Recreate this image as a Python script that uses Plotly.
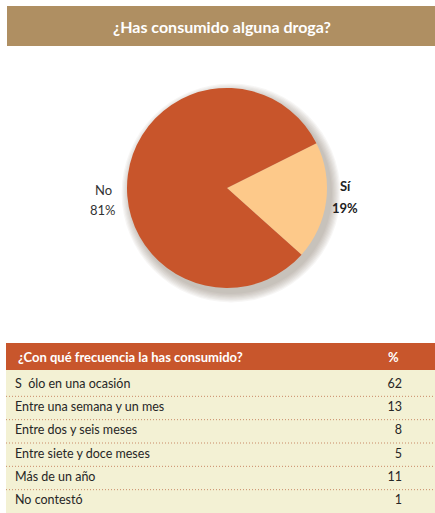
import plotly.graph_objects as go

# ---- data ----
pie_title = "¿Has consumido alguna droga?"
pie_labels = ["Sí", "No"]
pie_values = [19, 81]
pie_bold = [True, False]

table_header = ["¿Con qué frecuencia la has consumido?", "%"]
freq_categories = [
    "S  ólo en una ocasión",
    "Entre una semana y un mes",
    "Entre dos y seis meses",
    "Entre siete y doce meses",
    "Más de un año",
    "No contestó",
]
freq_values = [62, 13, 8, 5, 11, 1]

# ---- style ----
W, H = 435, 513
FONT = "Lato"
C_NO = "#C8552B"
C_SI = "#FDC98A"
C_TITLE = "#AF8F62"
C_HEAD = "#C8562C"
C_ROW = "#F3F1D4"
C_DOT = "#C98A66"
TXT = "#262626"

def py(px):
    return 1 - px / H

def pxx(px):
    return px / W

fig = go.Figure()

# ---- pie ----
pcx, pcy, pr = 227, 188, 100
fig.add_trace(go.Pie(
    labels=pie_labels, values=pie_values,
    textinfo="none",
    marker=dict(colors=[C_SI, C_NO], line=dict(width=0)),
    sort=False, direction="clockwise", rotation=63.4,
    domain=dict(x=[pxx(pcx - pr), pxx(pcx + pr)], y=[py(pcy + pr), py(pcy - pr)]),
    showlegend=False, hoverinfo="label+percent",
))

# pie label positions (layout, px): label line / percent line
label_pos = {"Sí": (345, 186, 208), "No": (103, 190, 210)}
annotations = []
for lab, val, b in zip(pie_labels, pie_values, pie_bold):
    lx, ly1, ly2 = label_pos[lab]
    for txt, yy in ((lab, ly1), (f"{val}%", ly2)):
        annotations.append(dict(
            text=f"<b>{txt}</b>" if b else txt, xref="paper", yref="paper",
            x=pxx(lx), y=py(yy), showarrow=False, xanchor="center", yanchor="middle",
            font=dict(family=FONT, size=13, color="#222222" if b else "#333333")))

# title
annotations.append(dict(text=f"<b>{pie_title}</b>", xref="paper", yref="paper",
                        x=pxx(222), y=py(26), showarrow=False,
                        xanchor="center", yanchor="middle",
                        font=dict(family=FONT, size=16, color="white", weight=900)))

# ---- table (hidden cartesian axes: x in px units, y = categories) ----
head_top, rows_top, rows_axis_top = 343, 370, 373
n = len(freq_categories)
fig.add_trace(go.Scatter(
    x=[15] * n, y=freq_categories, mode="text", text=freq_categories,
    textposition="middle right",
    textfont=dict(family=FONT, size=12.5, color=TXT),
    hoverinfo="skip", showlegend=False, xaxis="x", yaxis="y",
))
fig.add_trace(go.Scatter(
    x=[402] * n, y=freq_categories, mode="text", text=[str(v) for v in freq_values],
    textposition="middle left",
    textfont=dict(family=FONT, size=12.5, color=TXT),
    hoverinfo="skip", showlegend=False, xaxis="x", yaxis="y",
))

# header text
annotations.append(dict(text=f"<b>{table_header[0]}</b>", xref="paper", yref="paper",
                        x=pxx(16), y=py(357), xanchor="left", yanchor="middle", showarrow=False,
                        font=dict(family=FONT, size=13, color="white")))
annotations.append(dict(text=f"<b>{table_header[1]}</b>", xref="paper", yref="paper",
                        x=pxx(393), y=py(357), xanchor="center", yanchor="middle", showarrow=False,
                        font=dict(family=FONT, size=13, color="white")))

shapes = []
# title bar
shapes.append(dict(type="rect", xref="paper", yref="paper",
                   x0=pxx(7), x1=1, y0=py(46), y1=py(6),
                   fillcolor=C_TITLE, line=dict(width=0), layer="below"))
# soft pie shadow
for i in range(8):
    r = pr + 1 + i * 1.2
    shapes.append(dict(type="circle", xref="paper", yref="paper",
                       x0=pxx(pcx + 4 - r), x1=pxx(pcx + 4 + r),
                       y0=py(pcy + 5 + r), y1=py(pcy + 5 - r),
                       fillcolor="rgba(120,100,80,0.06)", line=dict(width=0), layer="below"))
# table header + body fills
shapes.append(dict(type="rect", xref="paper", yref="paper",
                   x0=pxx(6), x1=1, y0=py(rows_top), y1=py(head_top),
                   fillcolor=C_HEAD, line=dict(width=0), layer="below"))
shapes.append(dict(type="rect", xref="paper", yref="paper",
                   x0=pxx(6), x1=1, y0=0, y1=py(rows_top),
                   fillcolor=C_ROW, line=dict(width=0), layer="below"))
# dotted row separators
for i in range(n - 1):
    shapes.append(dict(type="line", xref="paper", yref="y",
                       x0=pxx(6), x1=1, y0=i + 0.5, y1=i + 0.5,
                       line=dict(color=C_DOT, width=1, dash="1px,2px"), layer="above"))

fig.update_layout(
    width=W, height=H, margin=dict(l=0, r=0, t=0, b=0),
    paper_bgcolor="white", plot_bgcolor="rgba(0,0,0,0)",
    shapes=shapes, annotations=annotations,
    xaxis=dict(domain=[0, 1], range=[0, W], visible=False, fixedrange=True),
    yaxis=dict(domain=[0, py(rows_axis_top)], type="category", categoryorder="array",
               categoryarray=freq_categories, range=[n - 0.5, -0.5],
               visible=False, fixedrange=True),
)

fig.write_html("out.html", config={"displayModeBar": False},
               post_script="document.body.style.margin='0';")
